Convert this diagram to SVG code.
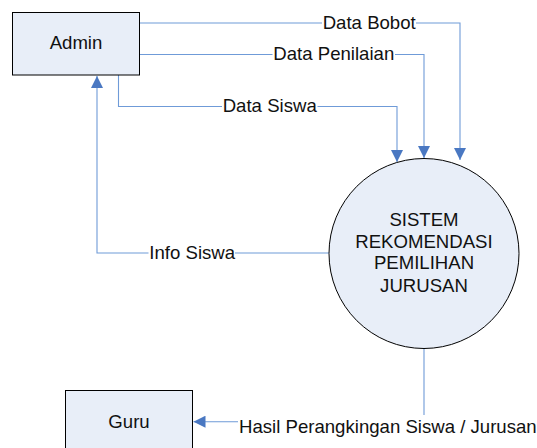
<svg xmlns="http://www.w3.org/2000/svg" width="537" height="448" viewBox="0 0 537 448">
  <style>
    .node { fill: #e8eef8; stroke: #000000; stroke-width: 1; }
    .flow { fill: none; stroke: #6f9bd8; stroke-width: 1.1; }
    .txt { font-family: "Liberation Sans", Arial, sans-serif; font-size: 18.6px; fill: #111111; }
    .mid { text-anchor: middle; }
    .lblbg { fill: #ffffff; }
  </style>
  <defs>
    <marker id="arrow" markerUnits="userSpaceOnUse" markerWidth="13" markerHeight="12" refX="12" refY="6" orient="auto">
      <path d="M0,0 L12,6 L0,12 Z" fill="#4a78c2"/>
    </marker>
  </defs>

  <rect width="537" height="448" fill="#ffffff"/>

  <!-- data flows -->
  <g id="connectors">
    <path class="flow" d="M139,23 H460 V160" marker-end="url(#arrow)"/>
    <path class="flow" d="M139,54.5 H424 V158" marker-end="url(#arrow)"/>
    <path class="flow" d="M118.5,75 V106.5 H397 V162" marker-end="url(#arrow)"/>
    <path class="flow" d="M329,253 H97 V76" marker-end="url(#arrow)"/>
    <path class="flow" d="M424,348.5 V421.7 H193.5" marker-end="url(#arrow)"/>

    <!-- flow labels -->
    <rect class="lblbg" x="322" y="12" width="94" height="22"/>
    <text class="txt" x="322.7" y="29">Data Bobot</text>
    <rect class="lblbg" x="272.5" y="43" width="122.5" height="22"/>
    <text class="txt" x="273.3" y="60">Data Penilaian</text>
    <rect class="lblbg" x="222" y="95" width="95.5" height="22"/>
    <text class="txt" x="222.7" y="112">Data Siswa</text>
    <rect class="lblbg" x="148.5" y="242" width="86.5" height="22"/>
    <text class="txt" x="149.3" y="259.3">Info Siswa</text>
    <rect class="lblbg" x="238" y="415" width="299" height="24"/>
    <text class="txt" x="239" y="432.7">Hasil Perangkingan Siswa / Jurusan</text>
  </g>

  <g id="admin">
    <rect class="node" x="12.5" y="12.5" width="127" height="62.5"/>
    <text class="txt mid" x="76" y="49">Admin</text>
  </g>

  <g id="guru">
    <rect class="node" x="65.5" y="390.5" width="127" height="62.5"/>
    <text class="txt mid" x="129" y="428.3">Guru</text>
  </g>

  <g id="sistem">
    <circle class="node" cx="424" cy="253.5" r="95"/>
    <text class="txt mid" x="424" y="226">SISTEM</text>
    <text class="txt mid" x="424" y="247.5">REKOMENDASI</text>
    <text class="txt mid" x="424" y="269.3">PEMILIHAN</text>
    <text class="txt mid" x="424" y="291.7">JURUSAN</text>
  </g>
</svg>
